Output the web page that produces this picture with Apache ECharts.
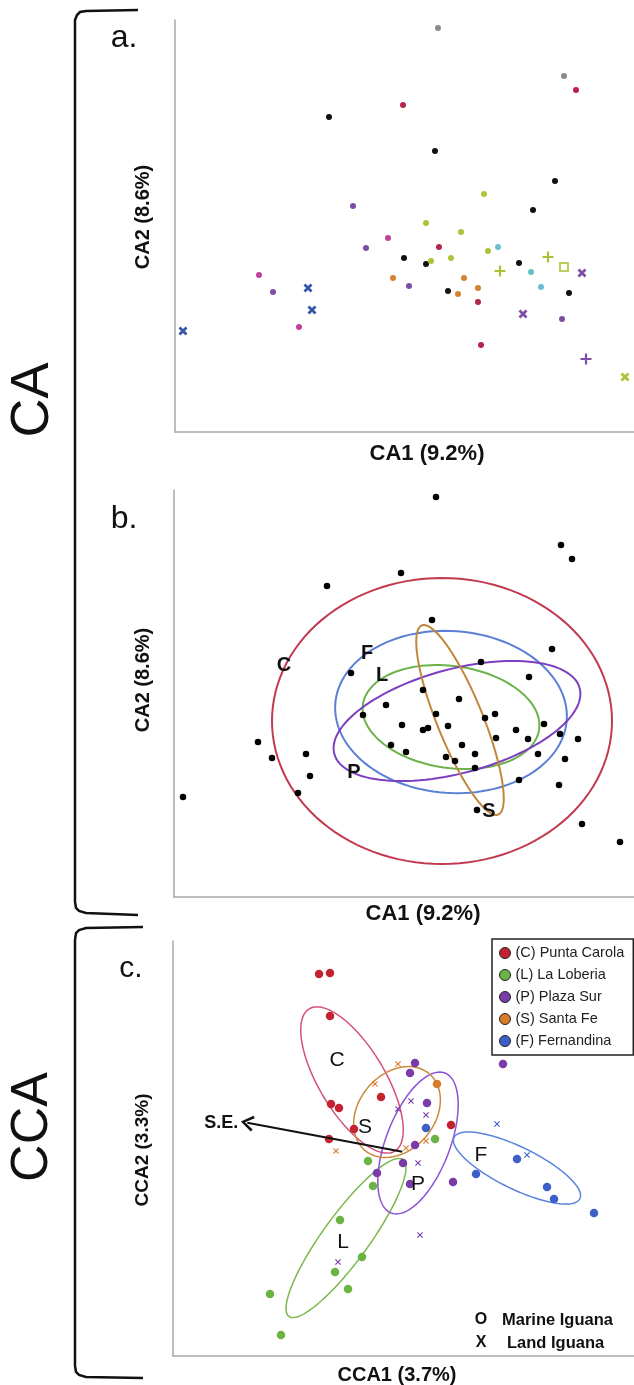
<!DOCTYPE html>
<html><head><meta charset="utf-8">
<script src="https://cdn.jsdelivr.net/npm/echarts@6/dist/echarts.min.js"></script>
<style>html,body{margin:0;padding:0;background:#fff}#c{width:634px;height:1385px}</style>
</head><body><div id="c"></div>
<script>
// ---------- Panel a (CA, coloured by group) : [CA1, CA2] scores ----------
const aBlack = [[15.4,31.5],[26.0,28.1],[38.0,25.1],[35.8,22.2],[22.9,17.4],[25.1,16.8],[34.4,16.9],[27.3,14.1],[39.4,13.9]];
const aGray = [[26.3,40.4],[38.9,35.6]];
const aCrimson = [[22.8,32.7],[40.1,34.2],[26.4,18.5],[30.3,13.0],[30.6,8.7]];
const aMagenta = [[21.3,19.4],[8.4,15.7],[12.4,10.5]];
const aPurple = [[17.8,22.6],[19.1,18.4],[9.8,14.0],[23.4,14.6],[38.7,11.3]];
const aOrange = [[21.8,15.4],[28.9,15.4],[30.3,14.4],[28.3,13.8]];
const aLime = [[30.9,23.8],[25.1,20.9],[28.6,20.0],[31.3,18.1],[25.6,17.1],[27.6,17.4]];
const aCyan = [[32.3,18.5],[35.6,16.0],[36.6,14.5]];
const aBlueCross = [[13.3,14.4],[13.7,12.2],[0.8,10.1]];
const aPurpleCross = [[40.7,15.9],[34.8,11.8]];
const aLimePlus = [[32.5,16.1],[37.3,17.5]];
const aLimeSquare = [[38.9,16.5]];
const aPurplePlus = [[41.1,7.3]];
const aLimeCross = [[45.0,5.5]];

// ---------- Panel b (CA, all samples) ----------
const bPoints = [[26.2,40.0],[38.7,35.2],[39.8,33.8],[22.7,32.4],[15.3,31.1],[25.8,27.7],[37.8,24.8],[30.7,23.5],
 [17.7,22.4],[35.5,22.0],[24.9,20.7],[28.5,19.8],[21.2,19.2],[18.9,18.2],[26.2,18.3],[31.1,17.9],[32.1,18.3],
 [22.8,17.2],[27.4,17.1],[25.4,16.9],[24.9,16.7],[37.0,17.3],[34.2,16.7],[38.6,16.3],[32.2,15.9],[35.4,15.8],
 [40.4,15.8],[8.4,15.5],[21.7,15.2],[28.8,15.2],[23.2,14.5],[30.1,14.3],[13.2,14.3],[36.4,14.3],[9.8,13.9],
 [27.2,14.0],[28.1,13.6],[39.1,13.8],[30.1,12.9],[13.6,12.1],[34.5,11.7],[38.5,11.2],[12.4,10.4],[0.9,10.0],
 [30.3,8.7],[40.8,7.3],[44.6,5.5]];
// ellipses: [centreX, centreY, semiMajor, semiMinor, angleDeg]  (sites C, F, L, P, S)
const bEllipses = [[26.8,17.6,17.0,14.3,0],[27.7,18.5,11.6,8.1,-4],[27.7,18.0,8.9,5.1,-8],[28.3,17.6,12.7,5.2,15],[28.6,17.7,10.2,2.3,-68]];
const bLabelNames = ['C','F','L','P','S'];
const bLabelPos = [[11.0,23.2],[19.3,24.4],[20.8,22.2],[18.0,12.5],[31.5,8.6]];

// ---------- Panel c (CCA) ----------
const sites = ['(C) Punta Carola','(L) La Loberia','(P) Plaza Sur','(S) Santa Fe','(F) Fernandina'];
const cCarolaDots = [[14.6,38.2],[15.7,38.3],[15.7,34.0],[15.8,25.2],[16.6,24.8],[20.8,25.9],[18.1,22.7],[15.6,21.7],[27.8,23.1]];
const cLoberiaDots = [[19.5,19.5],[20.0,17.0],[26.2,21.7],[16.7,13.6],[18.9,9.9],[16.2,8.4],[17.5,6.7],[9.7,6.2],[10.8,2.1]];
const cPlazaDots = [[24.2,29.3],[23.7,28.3],[25.4,25.3],[24.2,21.1],[23.0,19.3],[20.4,18.3],[23.7,17.2],[28.0,17.4],[33.0,29.2]];
const cPlazaCross = [[23.8,25.5],[22.5,24.7],[25.3,24.1],[24.5,19.3],[24.7,12.1],[16.5,9.4]];
const cSantaFeDots = [[26.4,27.2]];
const cSantaFeCross = [[22.5,29.2],[20.2,27.2],[16.3,20.5],[23.3,20.8],[25.3,21.5]];
const cFernandinaDots = [[25.3,22.8],[30.3,18.2],[34.4,19.7],[37.4,16.9],[38.1,15.7],[42.1,14.3]];
const cFernandinaCross = [[32.4,23.2],[35.4,20.1]];
const cEllipses = [[17.9,27.6,8.3,3.3,-59],[17.3,11.8,9.7,2.3,54],[24.5,21.3,7.5,3.2,69],[22.4,24.4,5.0,3.8,50],[34.4,18.8,7.0,2.1,-26]];
const cLabelNames = ['C','L','P','S','F'];
const cLabelPos = [[16.4,29.6],[17.0,11.4],[24.5,17.2],[19.2,22.9],[30.8,20.1]];
const seArrowFrom = [22.93,20.43];
const seArrowTo = [7.43,23.33];

// ---------- styles ----------
const CROSS = 'path://M0,2.2 L2.2,0 L5,2.8 L7.8,0 L10,2.2 L7.2,5 L10,7.8 L7.8,10 L5,7.2 L2.2,10 L0,7.8 L2.8,5 Z';
const THINX = 'path://M0,1.3 L1.3,0 L5,3.7 L8.7,0 L10,1.3 L6.3,5 L10,8.7 L8.7,10 L5,6.3 L1.3,10 L0,8.7 L3.7,5 Z';
const PLUS = 'path://M4,0 H6 V4 H10 V6 H6 V10 H4 V6 H0 V4 H4 Z';
const CHEVRON = 'path://M5,0 L10,8.8 L8.6,10 L5,3.2 L1.4,10 L0,8.8 Z';
const cDotColors = ['#c3232f','#6ab443','#7a3aa8','#d97a2c','#3c5fc8'];
const cEllColors = ['#d4507a','#7ab84e','#8a52d6','#c98a3c','#5a84dc'];
const bEllColors = ['#c23a50','#5b7fd4','#6cb24a','#7d3fc0','#c0873a'];
const FONT = "'Liberation Sans', Arial, sans-serif";

function sc(name, data, idx, symbol, size, color, extra) {
  return Object.assign({type:'scatter', name, data, xAxisIndex:idx, yAxisIndex:idx, symbol, symbolSize:size,
    itemStyle:{color, opacity:1}, silent:true, z:4}, extra || {});
}
function ell(list, colors, idx, width) {
  return {type:'custom', xAxisIndex:idx, yAxisIndex:idx, silent:true, clip:false, z:3,
    data: list.map((e,i)=>({value:e, itemStyle:{color:colors[i]}})),
    renderItem(params, api) {
      const cx=api.value(0), cy=api.value(1), a=api.value(2), b=api.value(3), r=api.value(4)*Math.PI/180;
      const pts=[];
      for (let k=0;k<=120;k++){ const t=k/120*2*Math.PI; const ex=a*Math.cos(t), ey=b*Math.sin(t);
        pts.push(api.coord([cx+ex*Math.cos(r)-ey*Math.sin(r), cy+ex*Math.sin(r)+ey*Math.cos(r)])); }
      return {type:'polyline', shape:{points:pts}, style:{fill:null, stroke:api.visual('color'), lineWidth:width}};
    }};
}
function labels(names, pos, idx, font, align, dx) {
  return {type:'custom', xAxisIndex:idx, yAxisIndex:idx, silent:true, clip:false, z:6,
    data: pos.map(p=>({value:p})),
    renderItem(params, api) {
      const c = api.coord([api.value(0), api.value(1)]);
      return {type:'text', x:c[0]+(dx||0), y:c[1],
        style:{text:names[params.dataIndex], fill:'#111', font:font, align:align||'center', verticalAlign:'middle'}};
    }};
}
const axisLine = {show:true, onZero:false, lineStyle:{color:'#a8a8a8', width:1.5}};
function ax(idx, max){ return {type:'value', gridIndex:idx, min:0, max, axisLine, axisTick:{show:false}, axisLabel:{show:false}, splitLine:{show:false}}; }

const series = [
  sc('a-black', aBlack, 0, 'circle', 6, '#111'),
  sc('a-gray', aGray, 0, 'circle', 6, '#8a8a8a'),
  sc('a-crimson', aCrimson, 0, 'circle', 6, '#b3264a'),
  sc('a-magenta', aMagenta, 0, 'circle', 6, '#c2409a'),
  sc('a-purple', aPurple, 0, 'circle', 6, '#7c4ea6'),
  sc('a-orange', aOrange, 0, 'circle', 6, '#d4822e'),
  sc('a-lime', aLime, 0, 'circle', 6, '#a8c437'),
  sc('a-cyan', aCyan, 0, 'circle', 6, '#6bbccc'),
  sc('a-blue-x', aBlueCross, 0, CROSS, 9, '#3457a8'),
  sc('a-purple-x', aPurpleCross, 0, CROSS, 9, '#7c4ea6'),
  sc('a-lime-plus', aLimePlus, 0, PLUS, 11, '#a8c437'),
  sc('a-lime-square', aLimeSquare, 0, 'emptyRect', 8, '#a8c437', {itemStyle:{color:'#a8c437', borderColor:'#a8c437', borderWidth:2}}),
  sc('a-purple-plus', aPurplePlus, 0, PLUS, 11, '#7c4ea6'),
  sc('a-lime-x', aLimeCross, 0, CROSS, 9, '#a8c437'),

  ell(bEllipses, bEllColors, 1, 2),
  sc('b-samples', bPoints, 1, 'circle', 6.5, '#000'),
  labels(bLabelNames, bLabelPos, 1, 'bold 20px '+FONT),

  ell(cEllipses, cEllColors, 2, 1.5),
  sc(sites[0], cCarolaDots, 2, 'circle', 8.5, cDotColors[0]),
  sc(sites[1], cLoberiaDots, 2, 'circle', 8.5, cDotColors[1]),
  sc(sites[2], cPlazaDots, 2, 'circle', 8.5, cDotColors[2]),
  sc(sites[3], cSantaFeDots, 2, 'circle', 8.5, cDotColors[3]),
  sc(sites[4], cFernandinaDots, 2, 'circle', 8.5, cDotColors[4]),
  sc('P-land', cPlazaCross, 2, THINX, 6, cDotColors[2]),
  sc('S-land', cSantaFeCross, 2, THINX, 6, cDotColors[3]),
  sc('F-land', cFernandinaCross, 2, THINX, 6, cDotColors[4]),
  labels(cLabelNames, cLabelPos, 2, 'normal 21px '+FONT),
  labels(['S.E.'], [seArrowTo], 2, 'bold 18px '+FONT, 'right', -9),
  {type:'scatter', xAxisIndex:2, yAxisIndex:2, data:[], silent:true, z:5,
    markLine:{silent:true, symbol:['none', CHEVRON], symbolSize:[16,13], label:{show:false},
      lineStyle:{color:'#111', width:2, type:'solid'},
      data:[[{coord:seArrowFrom},{coord:seArrowTo}]]}}
];

function txt(text, x, y, size, weight, rot, align) {
  return {type:'text', x, y, rotation:rot||0, z:10,
    style:{text, fill:'#111', font:(weight||'normal')+' '+size+'px '+FONT, align:align||'center', verticalAlign:'middle'}};
}
const bracketCA = [[138,10],[86,11],[80,12],[77,15],[75,20],[75,902],[76,908],[79,911],[86,913],[138,915]];
const bracketCCA = [[143,927],[86,928],[79,930],[76,933],[75,940],[75,1366],[76,1372],[79,1375],[86,1377],[143,1378]];
const graphic = [
  {type:'polyline', shape:{points:bracketCA}, style:{fill:null, stroke:'#111', lineWidth:2.5}},
  {type:'polyline', shape:{points:bracketCCA}, style:{fill:null, stroke:'#111', lineWidth:2.5}},
  txt('CA', 33, 400, 54, 'normal', Math.PI/2),
  txt('CCA', 33, 1127, 52, 'normal', Math.PI/2),
  txt('a.', 124, 38, 32),
  txt('b.', 124, 519, 32),
  txt('c.', 131, 969, 30),
  txt('CA1 (9.2%)', 427, 454, 22, 'bold'),
  txt('CA2 (8.6%)', 143, 217, 20, 'bold', Math.PI/2),
  txt('CA1 (9.2%)', 423, 914, 22, 'bold'),
  txt('CA2 (8.6%)', 143, 680, 20, 'bold', Math.PI/2),
  txt('CCA1 (3.7%)', 397, 1375, 20, 'bold'),
  txt('CCA2 (3.3%)', 143, 1150, 19, 'bold', Math.PI/2),
  txt('O', 481, 1320, 16, 'bold'),
  txt('Marine Iguana', 502, 1320, 16.5, 'bold', 0, 'left'),
  txt('X', 481, 1343, 16, 'bold'),
  txt('Land Iguana', 507, 1343, 16.5, 'bold', 0, 'left')
];

const chart = echarts.init(document.getElementById('c'), null, {renderer:'canvas'});
chart.setOption({
  animation:false,
  backgroundColor:'#fff',
  grid:[
    {left:175, top:20, width:459, height:412},
    {left:174, top:490, width:460, height:407},
    {left:173, top:941, width:461, height:415}
  ],
  xAxis:[ax(0,45.9), ax(1,46.0), ax(2,46.1)],
  yAxis:[ax(0,41.2), ax(1,40.7), ax(2,41.5)],
  legend:{left:492, top:939, orient:'vertical', selectedMode:false, icon:'circle', itemWidth:11, itemHeight:11, itemGap:6,
    padding:[6,9,6,7], borderColor:'#222', borderWidth:1.5, backgroundColor:'#fff',
    textStyle:{fontSize:14.5, lineHeight:16, fontFamily:FONT, color:'#222'},
    data: sites.map(n=>({name:n, itemStyle:{borderColor:'#222', borderWidth:1}}))},
  graphic,
  series
});
</script></body></html>
